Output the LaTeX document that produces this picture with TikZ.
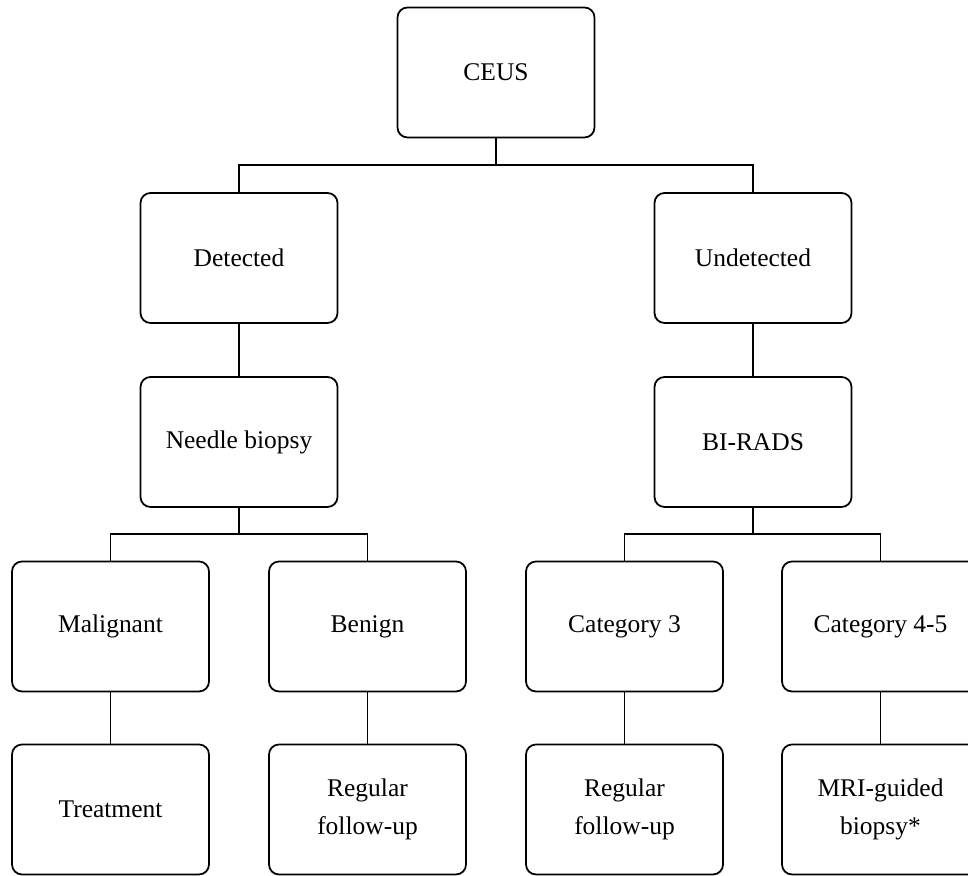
\documentclass[tikz,border=0pt]{standalone}
\usepackage{fontspec}
\setmainfont{Liberation Serif}
\usetikzlibrary{calc}

\tikzset{
  box/.style={draw, rounded corners=0.2cm, line width=1pt, minimum width=3.94cm,
    minimum height=2.6cm, inner sep=0pt, align=center,
    font=\fontsize{14.5}{22}\selectfont},
  link/.style={line width=1pt}
}

\begin{document}
\begin{tikzpicture}
\useasboundingbox (0,0) rectangle (19.36,17.52);

\node [box] (ceus) at (9.92,16.07) {CEUS};
\node [box] (det) at (4.78,12.36) {Detected};
\node [box] (undet) at (15.06,12.36) {Undetected};
\node [box] (needle) at (4.78,8.68) {Needle biopsy};
\node [box] (birads) at (15.06,8.68) {BI-RADS};
\node [box] (malig) at (2.21,4.99) {Malignant};
\node [box] (benign) at (7.35,4.99) {Benign};
\node [box] (cat3) at (12.49,4.99) {Category 3};
\node [box] (cat45) at (17.61,4.99) {Category 4-5};
\node [box] (treat) at (2.21,1.33) {Treatment};
\node [box] (fu1) at (7.35,1.33) {Regular\\follow-up};
\node [box] (fu2) at (12.49,1.33) {Regular\\follow-up};
\node [box] (mri) at (17.61,1.33) {MRI-guided\\biopsy*};

% tree lines
\draw [link] (ceus.south) -- ++(0,-0.54) -| (det.north);
\draw [link] (ceus.south) -- ++(0,-0.54) -| (undet.north);
\draw [link] (det) -- (needle);
\draw [link] (undet) -- (birads);
\draw [link] (needle.south) -- ++(0,-0.53) -| (malig.north);
\draw [link] (needle.south) -- ++(0,-0.53) -| (benign.north);
\draw [link] (birads.south) -- ++(0,-0.53) -| (cat3.north);
\draw [link] (birads.south) -- ++(0,-0.53) -| (cat45.north);
\draw [link] (malig) -- (treat);
\draw [link] (benign) -- (fu1);
\draw [link] (cat3) -- (fu2);
\draw [link] (cat45) -- (mri);
\end{tikzpicture}
\end{document}
